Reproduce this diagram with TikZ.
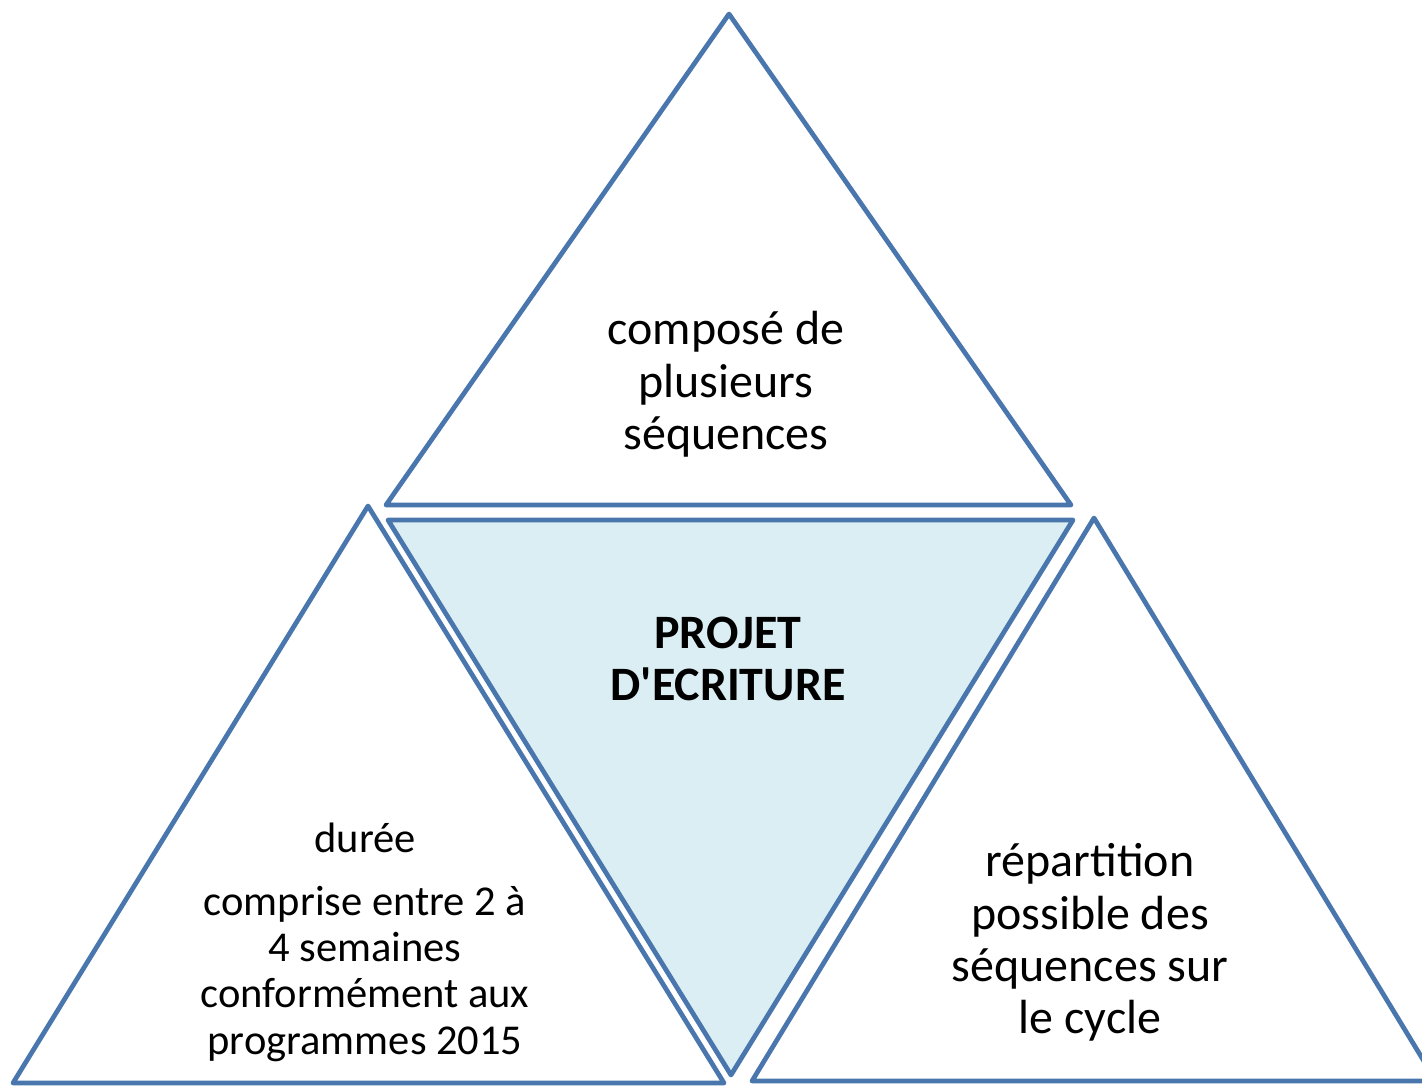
\documentclass[tikz,border=0pt]{standalone}
\usepackage{fontspec}
\setmainfont{Carlito}
\definecolor{edgeblue}{RGB}{74,118,174}
\definecolor{paleblue}{RGB}{218,238,243}
\tikzset{
  tri/.style={draw=edgeblue, line width=0.095cm, line join=round},
  bigtext/.style={align=center, anchor=base, inner sep=0pt, font=\fontsize{27.3pt}{29.6pt}\selectfont},
  smalltext/.style={align=center, anchor=base, inner sep=0pt, font=\fontsize{24.2pt}{26.2pt}\selectfont}
}
\begin{document}
\begin{tikzpicture}[x=0.02cm, y=-0.02cm]

    \useasboundingbox (0,0) rectangle (1422,1088);
    \clip (0,0) rectangle (1422,1088);

    % top triangle
    \draw [tri] (729,14) -- (1071,505) -- (386,505) -- cycle;
    % centre triangle, upside down
    \draw [tri, fill=paleblue] (388,520) -- (1073,520) -- (731,1075) -- cycle;
    % left triangle
    \draw [tri] (368,506) -- (724,1083) -- (13,1083) -- cycle;
    % right triangle
    \draw [tri] (1094,518) -- (1436,1081) -- (752,1081) -- cycle;

    \node [bigtext] (compose) at (726,449) {composé de\\plusieurs\\séquences};
    \node [bigtext, font=\fontsize{27.3pt}{29.6pt}\selectfont\bfseries] (projet) at (728,700) {PROJET\\D\textquotesingle ECRITURE};
    \node [smalltext] (duree) at (365,1054) {durée\\[0.34cm]comprise entre 2 à\\4 semaines\\conformément aux\\programmes 2015};
    \node [bigtext] (repart) at (1090,1033) {répartition\\possible des\\séquences sur\\le cycle};

\end{tikzpicture}
\end{document}
